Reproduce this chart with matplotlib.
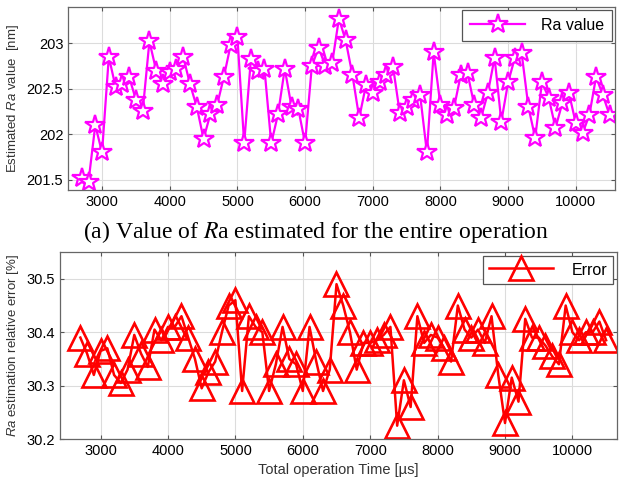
import numpy as np
import matplotlib
matplotlib.use('Agg')
import matplotlib.pyplot as plt

plt.rcParams['font.family'] = ['Liberation Sans', 'DejaVu Sans']
plt.rcParams['mathtext.fontset'] = 'custom'
plt.rcParams['mathtext.it'] = 'Liberation Sans:italic'
plt.rcParams['mathtext.rm'] = 'Liberation Sans'

# operation time [us]
time_us = list(range(2700, 10600, 100))

# estimated Ra [nm]
ra_value = [201.52, 201.48, 202.10, 201.80, 202.85, 202.52, 202.55, 202.63, 202.38, 202.25,
            203.02, 202.70, 202.55, 202.68, 202.72, 202.85, 202.55, 202.30, 201.95, 202.22,
            202.32, 202.63, 202.98, 203.07, 201.90, 202.83, 202.70, 202.72, 201.90, 202.22,
            202.72, 202.30, 202.28, 201.90, 202.75, 202.95, 202.75, 202.78, 203.27, 203.03,
            202.65, 202.18, 202.54, 202.45, 202.57, 202.65, 202.74, 202.23, 202.30, 202.38,
            202.43, 201.80, 202.90, 202.32, 202.21, 202.29, 202.65, 202.67, 202.32, 202.18,
            202.45, 202.84, 202.14, 202.57, 202.84, 202.89, 202.30, 201.96, 202.57, 202.40,
            202.07, 202.34, 202.45, 202.12, 202.01, 202.21, 202.63, 202.43, 202.21]

# relative error [%]
ra_error = [30.39, 30.36, 30.32, 30.365, 30.37, 30.32, 30.305, 30.33, 30.395, 30.36,
            30.335, 30.405, 30.385, 30.41, 30.41, 30.43, 30.39, 30.35, 30.295, 30.325,
            30.345, 30.40, 30.45, 30.46, 30.29, 30.43, 30.41, 30.40, 30.29, 30.34,
            30.41, 30.35, 30.34, 30.29, 30.41, 30.345, 30.29, 30.33, 30.49, 30.45,
            30.40, 30.33, 30.38, 30.38, 30.385, 30.395, 30.41, 30.225, 30.31, 30.26,
            30.43, 30.38, 30.395, 30.39, 30.37, 30.345, 30.45, 30.405, 30.39, 30.405,
            30.38, 30.43, 30.32, 30.23, 30.315, 30.27, 30.425, 30.39, 30.39, 30.375,
            30.355, 30.34, 30.45, 30.40, 30.385, 30.40, 30.40, 30.42, 30.385]

xticks = [3000, 4000, 5000, 6000, 7000, 8000, 9000, 10000]


def style_axes(ax):
    ax.grid(True, color='#dcdcdc', linewidth=0.8)
    ax.set_axisbelow(True)
    ax.tick_params(direction='in', top=True, right=True, labelsize=10.5,
                   color='#555555', length=3)
    for s in ax.spines.values():
        s.set_color('#666666')
        s.set_linewidth(0.9)
    ax.set_xticks(xticks)


fig = plt.figure(figsize=(6.2, 4.83), dpi=100)

# (a) estimated Ra
ax1 = fig.add_axes([0.110, 0.607, 0.882, 0.379])
ax1.plot(time_us, ra_value, color='#ff00ff', linewidth=1.6, marker='*',
         markersize=15, markerfacecolor='white', markeredgewidth=1.6,
         label='Ra value')
ax1.set_xlim(2500, 10580)
ax1.set_ylim(201.39, 203.4)
ax1.set_yticks([201.5, 202, 202.5, 203])
ax1.set_yticklabels(['201.5', '202', '202.5', '203'])
ax1.set_ylabel(r'Estimated $\it{Ra}$ value  [nm]', fontsize=9.5, color='#333333')
style_axes(ax1)
leg1 = ax1.legend(loc='upper right', fontsize=11.5, fancybox=False,
                  edgecolor='#555555', framealpha=1, handlelength=3.4,
                  borderaxespad=0.2, borderpad=0.5, handletextpad=1.0)
leg1.get_frame().set_linewidth(0.9)

fig.text(0.51, 0.52, r'(a) Value of $\mathit{R}$a estimated for the entire operation',
         ha='center', va='center', fontsize=17, family='Liberation Serif',
         math_fontfamily='stix')

# relative error
ax2 = fig.add_axes([0.097, 0.091, 0.898, 0.387])
ax2.plot(time_us, ra_error, color='#ff0000', linewidth=1.8, marker='^',
         markersize=17, markerfacecolor='none', markeredgewidth=1.9,
         label='Error')
ax2.set_xlim(2400, 10660)
ax2.set_ylim(30.2, 30.55)
ax2.set_yticks([30.2, 30.3, 30.4, 30.5])
ax2.set_ylabel(r'$\it{Ra}$ estimation relative error [%]', fontsize=9.5, color='#333333')
ax2.set_xlabel('Total operation Time [µs]', fontsize=10.5, color='#333333')
style_axes(ax2)
leg2 = ax2.legend(loc='upper right', fontsize=11.5, fancybox=False,
                  edgecolor='#555555', framealpha=1, handlelength=4.0,
                  borderaxespad=0.25, borderpad=0.35, handletextpad=1.2,
                  handleheight=1.2)
leg2.get_frame().set_linewidth(0.9)

fig.savefig('out.png', dpi=100)
